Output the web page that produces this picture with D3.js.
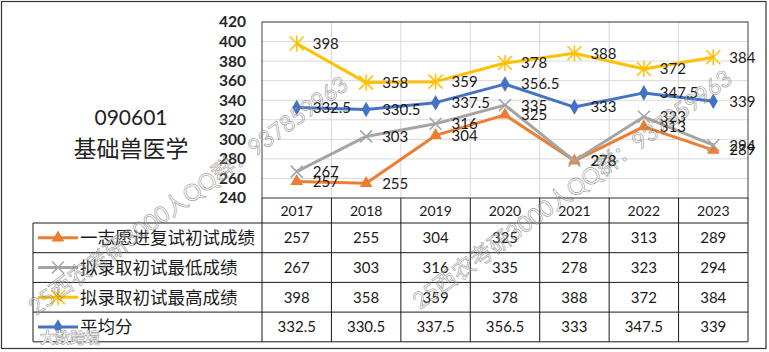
<!DOCTYPE html>
<html>
<head>
<meta charset="utf-8">
<script src="https://cdn.jsdelivr.net/npm/d3@7"></script>
<style>
  body { margin: 0; background: #fff; }
  text { font-family: Lato, "Noto Sans CJK SC", sans-serif; }
</style>
</head>
<body>
<div id="chart"></div>
<script>
// data
const years = ["2017", "2018", "2019", "2020", "2021", "2022", "2023"];
const firstChoice = [257, 255, 304, 325, 278, 313, 289];   // 一志愿进复试初试成绩
const minAdmit = [267, 303, 316, 335, 278, 323, 294];      // 拟录取初试最低成绩
const maxAdmit = [398, 358, 359, 378, 388, 372, 384];      // 拟录取初试最高成绩
const average = [332.5, 330.5, 337.5, 356.5, 333, 347.5, 339]; // 平均分
const seriesNames = ["一志愿进复试初试成绩", "拟录取初试最低成绩", "拟录取初试最高成绩", "平均分"];
const yTicks = [240, 260, 280, 300, 320, 340, 360, 380, 400, 420];
const titleLines = ["090601", "基础兽医学"];

const colors = ["#ED7D31", "#A5A5A5", "#FFC000", "#4472C4"];
const markers = ["triangle", "x", "star", "diamond"];
const series = [firstChoice, minAdmit, maxAdmit, average].map((vals, i) => ({
    name: seriesNames[i], values: vals, color: colors[i], marker: markers[i]
}));

const width = 769, height = 352;
const plot = {left: 262, right: 748, top: 22, bottom: 198};
const rowH = 29.7;
const tableTop = 223;   // first legend row
const legendLeft = 33;

const svg = d3.select("#chart").append("svg")
    .attr("width", width)
    .attr("height", height);

// outer frame
svg.append("rect")
    .attr("x", 1.5).attr("y", 1.5)
    .attr("width", 764.5).attr("height", 347)
    .attr("fill", "none").attr("stroke", "#333").attr("stroke-width", 1.2);

const xScale = d3.scaleBand()
    .domain(years)
    .range([plot.left, plot.right]);

const yScale = d3.scaleLinear()
    .domain([240, 420])
    .range([plot.bottom, plot.top]);

// horizontal gridlines
svg.selectAll("line.hgrid")
    .data(yTicks)
    .join("line")
    .attr("class", "hgrid")
    .attr("x1", plot.left).attr("x2", plot.right)
    .attr("y1", d => yScale(d)).attr("y2", d => yScale(d))
    .attr("stroke", "#d9d9d9").attr("stroke-width", 1);

// vertical gridlines at category boundaries
svg.selectAll("line.vgrid")
    .data(years.slice(1))
    .join("line")
    .attr("class", "vgrid")
    .attr("x1", d => xScale(d)).attr("x2", d => xScale(d))
    .attr("y1", plot.top).attr("y2", plot.bottom)
    .attr("stroke", "#d9d9d9").attr("stroke-width", 1);

// plot frame
svg.append("rect")
    .attr("x", plot.left).attr("y", plot.top)
    .attr("width", plot.right - plot.left).attr("height", plot.bottom - plot.top)
    .attr("fill", "none").attr("stroke", "#404040").attr("stroke-width", 1);

// y axis labels
const yAxis = svg.append("g")
    .attr("transform", `translate(${plot.left - 16},0)`)
    .call(d3.axisLeft(yScale).tickValues(yTicks).tickSize(0).tickPadding(0));
yAxis.select(".domain").remove();
yAxis.selectAll("text")
    .attr("font-family", "Lato, sans-serif")
    .attr("font-size", 15.5)
    .attr("font-weight", "bold")
    .attr("fill", "#262626");

// title on the left
svg.selectAll("text.title")
    .data(titleLines)
    .join("text")
    .attr("class", "title")
    .attr("x", 131)
    .attr("y", (d, i) => i === 0 ? 125 : 157)
    .attr("text-anchor", "middle")
    .attr("font-size", (d, i) => i === 0 ? 21 : 23)
    .attr("fill", "#222")
    .text(d => d);

// marker shapes
function markerPath(type) {
    if (type === "triangle") return d3.symbol(d3.symbolTriangle, 70)();
    if (type === "diamond") return d3.symbol(d3.symbolDiamond, 70)();
    if (type === "x") return "M-6,-6L6,6M-6,6L6,-6";
    return "M-7,-7L7,7M-7,7L7,-7M0,-8L0,8";   // star
}
function drawMarker(g, type, color) {
    if (type === "triangle" || type === "diamond") {
        g.append("path").attr("d", markerPath(type)).attr("fill", color);
    } else {
        g.append("path").attr("d", markerPath(type))
            .attr("stroke", color).attr("stroke-width", 1.5).attr("fill", "none");
    }
}

const line = d3.line()
    .x((d, i) => xScale(years[i]) + xScale.bandwidth() / 2)
    .y(d => yScale(d));

// lines and markers
series.forEach(s => {
    svg.append("path")
        .datum(s.values)
        .attr("d", line)
        .attr("fill", "none")
        .attr("stroke", s.color)
        .attr("stroke-width", 3)
        .attr("stroke-linejoin", "round");
    svg.selectAll(null)
        .data(s.values)
        .join("g")
        .attr("transform", (d, i) => `translate(${xScale(years[i]) + xScale.bandwidth() / 2},${yScale(d)})`)
        .each(function () { drawMarker(d3.select(this), s.marker, s.color); });
});

// data labels
series.forEach(s => {
    svg.selectAll(null)
        .data(s.values)
        .join("text")
        .attr("x", (d, i) => xScale(years[i]) + xScale.bandwidth() / 2 + 16)
        .attr("y", d => yScale(d))
        .attr("dy", "0.36em")
        .attr("font-size", 15)
        .attr("fill", "#1a1a1a")
        .text(d => d);
});

// data table
const tableBottom = tableTop + rowH * series.length;
const tbl = svg.append("g").attr("stroke", "#1a1a1a").attr("stroke-width", 1);

// horizontal rules
tbl.selectAll("line.row")
    .data(d3.range(series.length + 1))
    .join("line")
    .attr("x1", legendLeft).attr("x2", plot.right)
    .attr("y1", i => tableTop + i * rowH).attr("y2", i => tableTop + i * rowH);
// vertical rules for year columns
tbl.selectAll("line.col")
    .data(years.concat(["end"]))
    .join("line")
    .attr("x1", (d, i) => plot.left + i * xScale.bandwidth())
    .attr("x2", (d, i) => plot.left + i * xScale.bandwidth())
    .attr("y1", plot.bottom).attr("y2", tableBottom);
tbl.append("line")
    .attr("x1", legendLeft).attr("x2", legendLeft)
    .attr("y1", tableTop).attr("y2", tableBottom);

// year header
svg.selectAll("text.year")
    .data(years)
    .join("text")
    .attr("class", "year")
    .attr("x", d => xScale(d) + xScale.bandwidth() / 2)
    .attr("y", (plot.bottom + tableTop) / 2)
    .attr("dy", "0.36em")
    .attr("text-anchor", "middle")
    .attr("font-size", 14)
    .attr("fill", "#1a1a1a")
    .text(d => d);

// table rows
series.forEach((s, r) => {
    const cy = tableTop + r * rowH + rowH / 2;
    svg.append("line")
        .attr("x1", 38).attr("x2", 78)
        .attr("y1", cy).attr("y2", cy)
        .attr("stroke", s.color).attr("stroke-width", 3);
    const mg = svg.append("g").attr("transform", `translate(58,${cy})`);
    drawMarker(mg, s.marker, s.color);
    svg.append("text")
        .attr("x", 80).attr("y", cy)
        .attr("dy", "0.36em")
        .attr("font-size", 17.5)
        .attr("fill", "#1a1a1a")
        .text(s.name);
    svg.selectAll(null)
        .data(s.values)
        .join("text")
        .attr("x", (d, i) => xScale(years[i]) + xScale.bandwidth() / 2)
        .attr("y", cy)
        .attr("dy", "0.36em")
        .attr("text-anchor", "middle")
        .attr("font-size", 15)
        .attr("fill", "#1a1a1a")
        .text(d => d);
});

// watermarks (outlined gray text)
const marks = [
    {text: "25西农考研3000人QQ群：937859963", x: 36, y: 316, angle: -36},
    {text: "25西农考研3000人QQ群：937859963", x: 420, y: 310, angle: -36}
];
svg.selectAll("text.wm")
    .data(marks)
    .join("text")
    .attr("class", "wm")
    .attr("transform", d => `translate(${d.x},${d.y}) rotate(${d.angle})`)
    .attr("font-size", 23)
    .attr("textLength", 388)
    .attr("lengthAdjust", "spacingAndGlyphs")
    .attr("fill", "rgba(255,255,255,0.25)")
    .attr("stroke", "rgba(90,90,90,0.6)")
    .attr("stroke-width", 0.7)
    .text(d => d.text);

svg.append("text")
    .attr("x", 40).attr("y", 343)
    .attr("font-size", 15)
    .attr("font-weight", "bold")
    .attr("fill", "#fff")
    .attr("stroke", "#aaa")
    .attr("stroke-width", 0.7)
    .text("大数跨境");
</script>
</body>
</html>
